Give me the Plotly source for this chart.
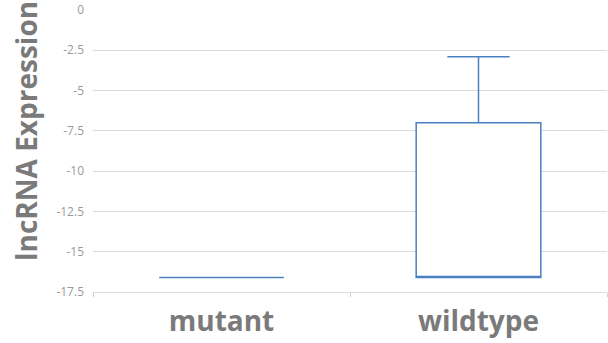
import plotly.graph_objects as go

# Summary statistics per group (lncRNA expression)
groups = ["mutant", "wildtype"]
lower_fence = [-16.6, -16.6]
q1 = [-16.6, -16.6]
median = [-16.6, -16.6]
q3 = [-16.6, -7.0]
upper_fence = [-16.6, -2.9]

y_ticks = [0, -2.5, -5, -7.5, -10, -12.5, -15, -17.5]
y_tick_text = ["0", "-2.5", "-5", "-7.5", "-10", "-12.5", "-15", "-17.5"]

PLOT_W = 514
PLOT_H = 282

fig = go.Figure()
fig.add_trace(go.Box(
    x=groups,
    lowerfence=lower_fence,
    q1=q1,
    median=median,
    q3=q3,
    upperfence=upper_fence,
    width=0.485,
    whiskerwidth=0.5,
    fillcolor="white",
    line=dict(color="#4a7fc0", width=1.5),
    boxpoints=False,
    showlegend=False,
    hoverinfo="skip",
))

fig.update_layout(
    width=608,
    height=343,
    margin=dict(l=93, r=1, t=10, b=51),
    paper_bgcolor="white",
    plot_bgcolor="white",
    xaxis=dict(
        type="category",
        range=[-0.5, 1.5],
        showgrid=False,
        showline=True,
        linecolor="#dcdcdc",
        linewidth=1,
        ticks="outside",
        tickson="boundaries",
        ticklen=4,
        tickcolor="#cfcfcf",
        tickfont=dict(family="Open Sans", size=28, color="#7a7a7a", weight="bold"),
        ticklabelstandoff=4,
    ),
    yaxis=dict(
        range=[-17.5, 0],
        tickvals=y_ticks,
        ticktext=y_tick_text,
        showgrid=True,
        gridcolor="#dadada",
        gridwidth=1,
        zeroline=False,
        showline=False,
        tickfont=dict(family="Open Sans", size=12, color="#9a9a9a"),
        ticklabelstandoff=8,
    ),
    annotations=[dict(
        text="<b>lncRNA Expression</b>",
        textangle=-90,
        xref="paper", yref="paper",
        x=-88 / PLOT_W, y=29 / PLOT_H,
        xanchor="left", yanchor="bottom",
        showarrow=False,
        font=dict(family="Open Sans", size=28, color="#7a7a7a"),
    )],
)

fig.write_html("out.html")
